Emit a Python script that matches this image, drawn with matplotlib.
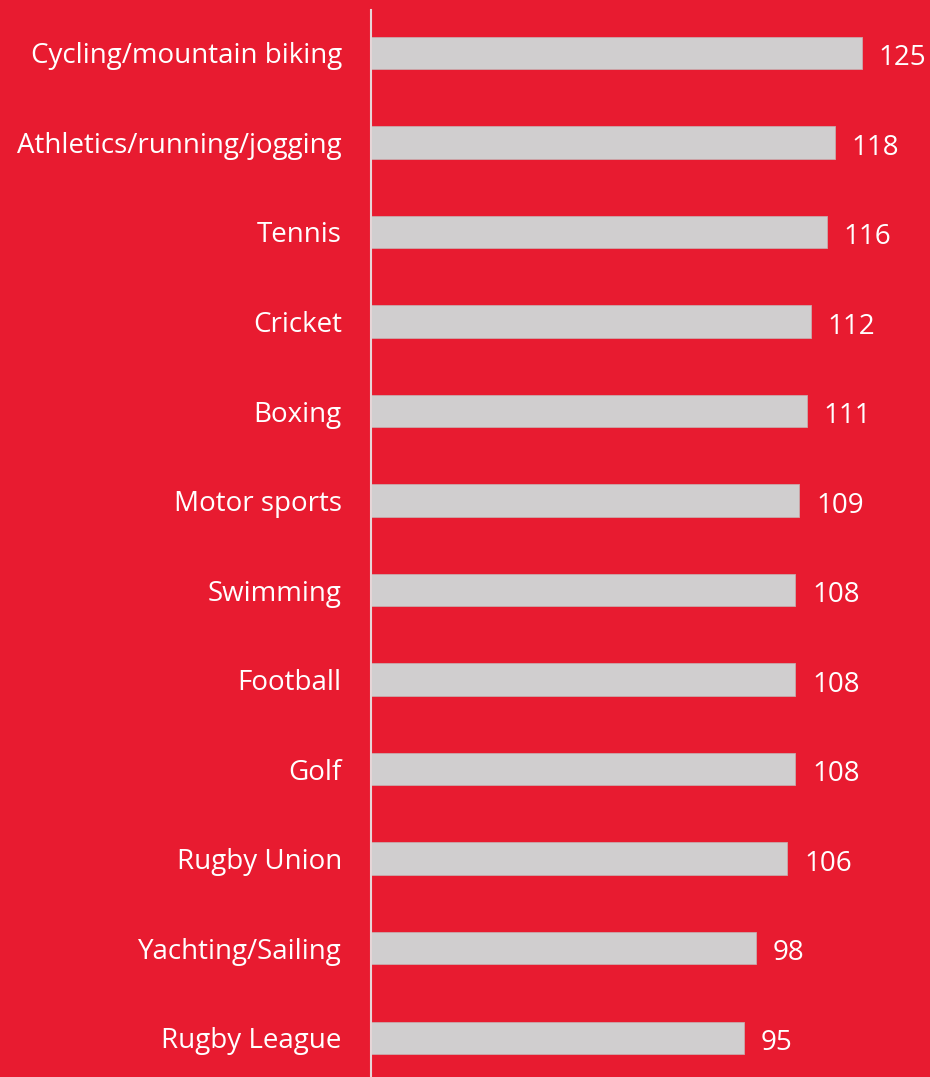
import matplotlib
matplotlib.use('Agg')
import matplotlib.pyplot as plt

sports = ['Cycling/mountain biking', 'Athletics/running/jogging', 'Tennis', 'Cricket',
          'Boxing', 'Motor sports', 'Swimming', 'Football', 'Golf', 'Rugby Union',
          'Yachting/Sailing', 'Rugby League']
index_values = [125, 118, 116, 112, 111, 109, 108, 108, 108, 106, 98, 95]

bg = '#E81B30'
bar_color = '#D0CECF'

plt.rcParams['font.family'] = ['Open Sans', 'DejaVu Sans']

fig = plt.figure(figsize=(9.3, 10.77), dpi=100)
fig.set_facecolor(bg)
ax = fig.add_axes([371 / 930, 0, 559 / 930, 1 - 10 / 1077])
ax.set_facecolor(bg)

ypos = list(range(len(sports)))
ax.barh(ypos, index_values, height=0.36, color=bar_color, edgecolor='#C9A9AC', linewidth=0.6)

for y, v in zip(ypos, index_values):
    ax.text(v + 4.3, y + 0.02, str(v), va='center_baseline', ha='left', color='white', fontsize=20)

ax.set_yticks(ypos)
ax.set_yticklabels(sports, color='white', fontsize=20)
ax.tick_params(axis='y', length=0, pad=21)
ax.set_xticks([])
ax.set_xlim(0, 142.3)
ax.set_ylim(11.44, -0.48)

for s in ['top', 'right', 'bottom']:
    ax.spines[s].set_visible(False)
ax.spines['left'].set_color('#E6D5D7')
ax.spines['left'].set_linewidth(1.5)

plt.savefig('out.png', dpi=100, facecolor=bg)
